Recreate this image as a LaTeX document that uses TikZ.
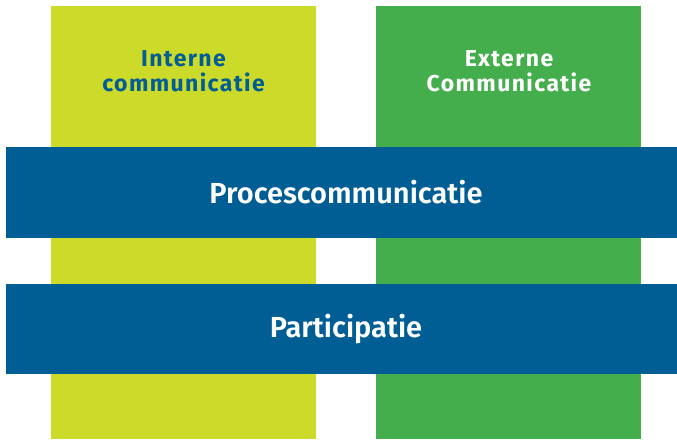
\documentclass[tikz,border=0pt]{standalone}
\usepackage{fontspec}
\setmainfont{Fira Sans}[BoldFont={Fira Sans SemiBold}]
\newfontfamily\hdfont{Fira Sans Bold}[LetterSpace=6]
\definecolor{lime}{HTML}{CCDA2A}
\definecolor{grn}{HTML}{43AE4B}
\definecolor{blu}{HTML}{005E95}
\begin{document}
\begin{tikzpicture}[x=1pt,y=-1pt,
  band/.style={fill=blu},
  colhead/.style={align=center,font=\hdfont\fontsize{23}{25.5}\selectfont},
  bandlabel/.style={text=white,font=\bfseries\fontsize{29}{33}\selectfont}]
\useasboundingbox (0,0) rectangle (677,439);
\fill[lime] (51,6) rectangle (316,439);
\fill[grn] (376,6) rectangle (641,439);
\fill[band] (6,147) rectangle (677,238);
\fill[band] (6,283.5) rectangle (677,374);
\node[colhead,text=blu] (intern) at (183.5,71) {Interne\\communicatie};
\node[colhead,text=white] (extern) at (509,71) {Externe\\Communicatie};
\node[bandlabel] (proces) at (346,192.5) {Procescommunicatie};
\node[bandlabel] (part) at (346,329) {Participatie};
\end{tikzpicture}
\end{document}
